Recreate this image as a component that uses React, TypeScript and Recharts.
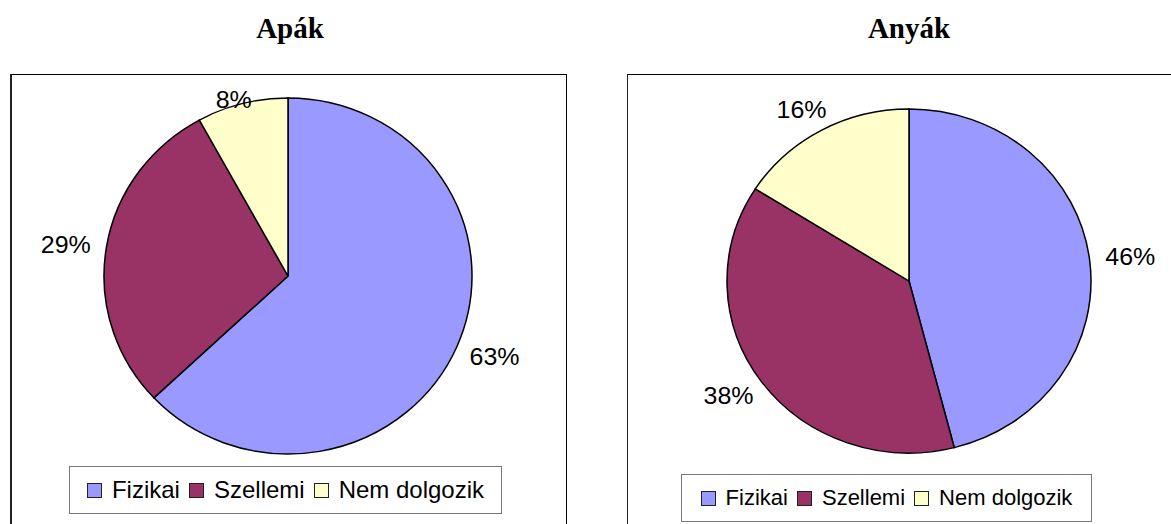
import React from "react";
import { PieChart, Pie, Cell } from "recharts";

const categories = ["Fizikai", "Szellemi", "Nem dolgozik"];
const apakValues = [63, 29, 8];
const anyakValues = [46, 38, 16];
const sliceColors = ["#9999FF", "#993366", "#FFFFCC"];

const SANS = "'Liberation Sans', Arial, sans-serif";
const SERIF = "'Liberation Serif', 'Times New Roman', serif";

interface BoxProps {
  title: string;
  values: number[];
  titleX: number;
  box: { left: number; top: number; width: number; height: number; borderLeft: number; borderRight: number };
  cx: number;
  cy: number;
  rx: number;
  ry: number;
  legend: { left: number; top: number; width: number; height: number; fontSize: number };
}

const LABEL_SIZE = 25;
const LABEL_GAP = 16;
const LABEL_TOP_MIN = 25;

function PieBox({ title, values, titleX, box, cx, cy, rx, ry, legend }: BoxProps) {
  const data = categories.map((name, i) => ({ name, value: values[i] }));
  const s = ry / rx;
  const innerW = box.width - box.borderLeft - box.borderRight;
  const innerH = box.height - 1;

  // eslint-disable-next-line @typescript-eslint/no-explicit-any
  const renderLabel = (p: any) => {
    const RAD = Math.PI / 180;
    const cosA = Math.cos(-p.midAngle * RAD);
    const sinA = Math.sin(-p.midAngle * RAD);
    const w = (String(p.value).length * 0.556 + 0.889) * LABEL_SIZE;
    const h = LABEL_SIZE * 0.72;
    const r = p.outerRadius + LABEL_GAP;
    const x = p.cx + r * cosA + (w / 2) * cosA;
    let y = p.cy + r * sinA + (h / 2) * sinA;
    // keep labels inside the plot frame, like Excel does
    const minY = p.cy - (p.cy - LABEL_TOP_MIN) / s;
    if (y < minY) y = minY;
    return (
      <text
        x={x}
        y={y}
        textAnchor="middle"
        dominantBaseline="central"
        fontFamily={SANS}
        fontSize={LABEL_SIZE}
        fill="#000"
      >
        {`${p.value}%`}
      </text>
    );
  };

  return (
    <>
      <div
        style={{
          position: "absolute",
          left: titleX - 120,
          top: 11,
          width: 240,
          textAlign: "center",
          fontFamily: SERIF,
          fontWeight: "bold",
          fontSize: 29,
          lineHeight: "34px",
          color: "#000",
        }}
      >
        {title}
      </div>
      <div
        style={{
          position: "absolute",
          left: box.left,
          top: box.top,
          width: box.width,
          height: box.height,
          boxSizing: "border-box",
          borderTop: "1px solid #000",
          borderLeft: `${box.borderLeft}px solid #222`,
          borderRight: box.borderRight ? `${box.borderRight}px solid #000` : "none",
          background: "#fff",
        }}
      >
        <div
          style={{
            position: "absolute",
            left: 0,
            top: 0,
            width: innerW,
            height: innerH,
            transform: `scaleY(${s})`,
            transformOrigin: `${cx}px ${cy}px`,
          }}
        >
          <PieChart width={innerW} height={innerH} margin={{ top: 0, right: 0, bottom: 0, left: 0 }}>
            <Pie
              data={data}
              dataKey="value"
              nameKey="name"
              cx={cx}
              cy={cy}
              outerRadius={rx}
              startAngle={90}
              endAngle={-270}
              stroke="#000"
              strokeWidth={1.5}
              labelLine={false}
              label={renderLabel}
              isAnimationActive={false}
            >
              {data.map((d, i) => (
                <Cell key={d.name} fill={sliceColors[i]} />
              ))}
            </Pie>
          </PieChart>
        </div>
        <div
          style={{
            position: "absolute",
            left: legend.left,
            top: legend.top,
            width: legend.width,
            height: legend.height,
            boxSizing: "border-box",
            border: "1px solid #777",
            background: "#fff",
            display: "flex",
            alignItems: "center",
            justifyContent: "center",
            fontFamily: SANS,
            fontSize: legend.fontSize,
            color: "#000",
            whiteSpace: "nowrap",
          }}
        >
          {categories.map((c, i) => (
            <span key={c} style={{ display: "flex", alignItems: "center", marginLeft: i ? 9 : 0 }}>
              <span
                style={{
                  display: "inline-block",
                  width: 15,
                  height: 15,
                  boxSizing: "border-box",
                  border: "1.5px solid #222",
                  background: sliceColors[i],
                  marginRight: 10,
                }}
              />
              {c}
            </span>
          ))}
        </div>
      </div>
    </>
  );
}

export default function App() {
  return (
    <div
      style={{
        position: "absolute",
        left: 0,
        top: 0,
        width: 1171,
        height: 524,
        overflow: "hidden",
        background: "#fff",
      }}
    >
      <PieBox
        title="Apák"
        values={apakValues}
        titleX={290}
        box={{ left: 10, top: 74, width: 557, height: 450, borderLeft: 2, borderRight: 1 }}
        cx={276}
        cy={201}
        rx={184}
        ry={178}
        legend={{ left: 57, top: 391, width: 433, height: 48, fontSize: 24 }}
      />
      <PieBox
        title="Anyák"
        values={anyakValues}
        titleX={909}
        box={{ left: 627, top: 74, width: 544, height: 450, borderLeft: 1, borderRight: 0 }}
        cx={281}
        cy={206}
        rx={182}
        ry={172}
        legend={{ left: 53, top: 399, width: 411, height: 48, fontSize: 22 }}
      />
    </div>
  );
}
